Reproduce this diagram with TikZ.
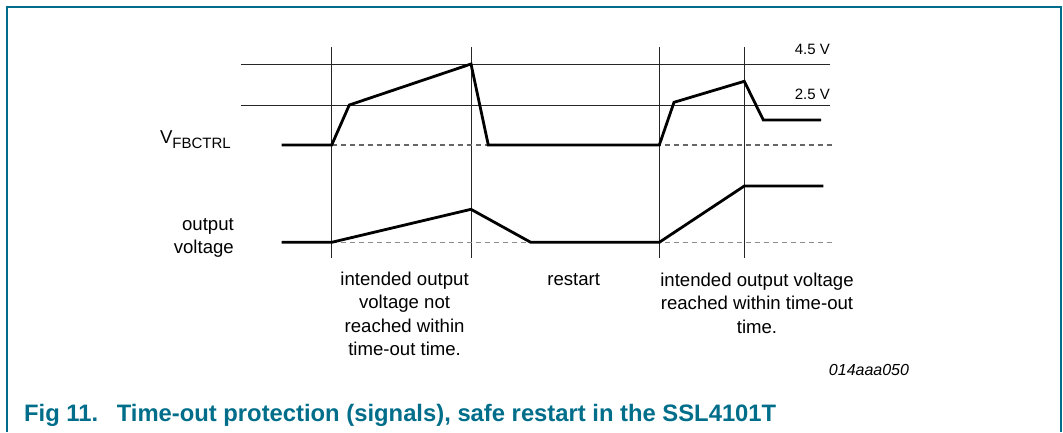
\documentclass[tikz,border=0pt]{standalone}
\usepackage{fontspec}
\setmainfont{Liberation Sans}
\usepackage{tikz}
\usetikzlibrary{arrows}
\definecolor{nxpteal}{RGB}{0,110,138}

\begin{document}
\begin{tikzpicture}[x=1pt,y=-1pt,
	ref_line/.style={line width=0.9pt,black!85},
	sig_line/.style={line width=2.8pt,black},
	zero_line/.style={line width=1.2pt,dash pattern=on 5pt off 4pt},
	lbl_node/.style={inner sep=0pt,font=\fontsize{18.6}{23.5}\selectfont,align=center},
	lvl_node/.style={inner sep=0pt,font=\fontsize{15}{18}\selectfont,anchor=base east}]

		\useasboundingbox (0,0) rectangle (1063,432);
		\draw[nxpteal,line width=2pt] (7,432) -- (7,7) -- (1061,7) -- (1061,432);

		% time markers
		\foreach \t in {331.7,471,659.3,744.3}
			\draw[ref_line] (\t,47.3) -- (\t,258);
		% levels
		\draw[ref_line] (240.7,64) -- (830,64);
		\draw[ref_line] (240.7,105) -- (830,105);
		\draw[zero_line,black!60] (331.7,145) -- (834,145);
		\draw[zero_line,black!45] (331.7,242.3) -- (834,242.3);

		\node[lvl_node] (1) at (830,54.5) {4.5 V};
		\node[lvl_node] (2) at (830,99.3) {2.5 V};
		\node[inner sep=0pt,anchor=base east,font=\fontsize{18.6}{22}\selectfont] (3) at (231,143)
			{V\raisebox{-5pt}{\fontsize{15}{18}\selectfont FBCTRL}};
		\node[lbl_node,align=right,anchor=east] (4) at (234,238) {output\\voltage};

		% V_FBCTRL
		\coordinate (f1) at (281.7,145);
		\coordinate (f2) at (331.7,145);
		\coordinate (f3) at (349.3,105);
		\coordinate (f4) at (471,64);
		\coordinate (f5) at (488.3,145);
		\coordinate (f6) at (659.3,145);
		\coordinate (f7) at (674,102.3);
		\coordinate (f8) at (744.3,81.3);
		\coordinate (f9) at (763.3,120);
		\coordinate (f10) at (821,120);
		\draw[sig_line] (f1) -- (f2) -- (f3) -- (f4) -- (f5) -- (f6) -- (f7) -- (f8) -- (f9) -- (f10);

		% output voltage
		\coordinate (o1) at (281.7,242.3);
		\coordinate (o2) at (331.7,242.3);
		\coordinate (o3) at (471,209.3);
		\coordinate (o4) at (530.7,242.3);
		\coordinate (o5) at (659.3,242.3);
		\coordinate (o6) at (744.3,186);
		\coordinate (o7) at (823.3,186);
		\draw[sig_line] (o1) -- (o2) -- (o3) -- (o4) -- (o5) -- (o6) -- (o7);

		\node[lbl_node] (5) at (404.6,314) {intended output\\voltage not\\reached within\\time-out time.};
		\node[lbl_node] (6) at (573.7,280) {restart};
		\node[lbl_node] (7) at (757,303) {intended output voltage\\reached within time-out\\time.};
		\node[inner sep=0pt,font=\fontsize{16}{19}\selectfont\itshape] (8) at (869,369.5) {014aaa050};

		\node[inner sep=0pt,anchor=base west,text=nxpteal,font=\fontsize{23.8}{28}\selectfont\bfseries] (9) at (24,421)
			{Fig 11.\hspace{18.5pt}Time-out protection (signals), safe restart in the SSL4101T};
		\end{tikzpicture}
\end{document}
